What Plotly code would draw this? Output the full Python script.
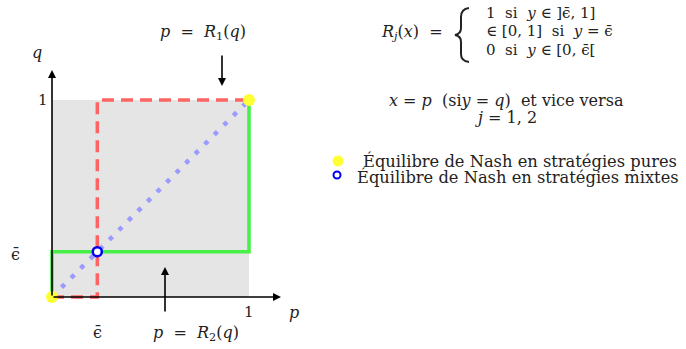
import plotly.graph_objects as go

# best responses in the (p, q) square
eps = 0.23
r1_p = [0, eps, eps, 1]
r1_q = [0, 0, 1, 1]
r2_p = [0, 0, 1, 1]
r2_q = [0, eps, eps, 1]
diag = [0, 1]
pure_p = [0, 1]
pure_q = [0, 1]
mixed_p = [eps]
mixed_q = [eps]

serif = "DejaVu Serif"
W, H = 686, 349
px = 197.0  # pixels per unit
x0, y0 = 52, 297  # pixel position of the origin

def X(pix):
    return (pix - x0) / px

def Y(pix):
    return (y0 - pix) / px

EPS = "ϵ̄"

fig = go.Figure()

# grey square
fig.add_shape(type="rect", x0=0, y0=0, x1=1, y1=1, fillcolor="#e5e5e5",
              line_width=0, layer="below")

# diagonal dots
fig.add_trace(go.Scatter(x=diag, y=diag, mode="lines",
                         line=dict(color="#9a9aff", width=4.5, dash="4.5px,9px")))
# R1 dashed red
fig.add_trace(go.Scatter(x=r1_p, y=r1_q, mode="lines",
                         line=dict(color="#ff6464", width=3.5, dash="12px,7px")))
# R2 green
fig.add_trace(go.Scatter(x=r2_p, y=r2_q, mode="lines",
                         line=dict(color="#46f046", width=3.5)))
# equilibria
fig.add_trace(go.Scatter(x=pure_p, y=pure_q, mode="markers",
                         marker=dict(color="#ffff33", size=12, line_width=0)))
fig.add_trace(go.Scatter(x=mixed_p, y=mixed_q, mode="markers",
                         marker=dict(color="white", size=9,
                                     line=dict(color="#0000ee", width=2.5))))

def arrow(xa, ya, xb, yb):
    fig.add_annotation(x=xb, y=yb, ax=xa, ay=ya, xref="x", yref="y",
                       axref="x", ayref="y", showarrow=True, arrowhead=2,
                       arrowsize=1, arrowwidth=1.6, arrowcolor="black", text="")

# axes
arrow(0, 0, X(281), 0)
arrow(0, 0, 0, Y(70))
# pointers to the curves
arrow(X(222), Y(54), X(222), Y(86))
arrow(X(165), Y(313), X(165), Y(267))

def txt(xp, yp, s, size=16, xanchor="center"):
    fig.add_annotation(x=X(xp), y=Y(yp), text=s, showarrow=False,
                       xanchor=xanchor, yanchor="middle",
                       font=dict(family=serif, size=size, color="#222"))

txt(203, 32, "<i>p</i>  =  <i>R</i><sub>1</sub>(<i>q</i>)")
txt(196, 333, "<i>p</i>  =  <i>R</i><sub>2</sub>(<i>q</i>)")
txt(37, 52, "<i>q</i>")
txt(294, 312, "<i>p</i>")
txt(43, 100, "1", size=15)
txt(249, 312, "1", size=15)
txt(15, 254, EPS)
txt(97, 332, EPS)

# definition of R_j
txt(412, 32, "<i>R<sub>j</sub></i>(<i>x</i>)  =")
# brace, drawn as a path
bx = [469, 461, 461, 461, 461, 455, 461, 461, 461, 461, 469]
by = [8, 9, 17, 28, 34, 35, 36, 42, 54, 61, 62]
pts = [(X(a), Y(b)) for a, b in zip(bx, by)]
path = ("M {0[0]},{0[1]} Q {1[0]},{1[1]} {2[0]},{2[1]} L {3[0]},{3[1]} "
        "Q {4[0]},{4[1]} {5[0]},{5[1]} Q {6[0]},{6[1]} {7[0]},{7[1]} "
        "L {8[0]},{8[1]} Q {9[0]},{9[1]} {10[0]},{10[1]}").format(*pts)
fig.add_shape(type="path", path=path, line=dict(color="#222", width=2))

txt(484, 13, "1  si  <i>y</i> ∈ ]" + EPS + ", 1]", size=15, xanchor="left")
txt(484, 31, "∈ [0, 1]  si  <i>y</i> = " + EPS, size=15, xanchor="left")
txt(484, 50, "0  si  <i>y</i> ∈ [0, " + EPS + "[", size=15, xanchor="left")
txt(506, 100, "<i>x</i> = <i>p</i>  (si<i>y</i> = <i>q</i>)  et vice versa", size=16)
txt(506, 117, "<i>j</i> = 1, 2", size=16)

# legend
fig.add_trace(go.Scatter(x=[X(338)], y=[Y(161)], mode="markers",
                         marker=dict(color="#ffff33", size=11, line_width=0)))
fig.add_trace(go.Scatter(x=[X(337)], y=[Y(175)], mode="markers",
                         marker=dict(color="white", size=7,
                                     line=dict(color="#0000ee", width=2))))
txt(361, 161, "Équilibre de Nash en stratégies pures", size=16.3, xanchor="left")
txt(355, 177, "Équilibre de Nash en stratégies mixtes", size=16.3, xanchor="left")

fig.update_layout(
    width=W, height=H, margin=dict(l=0, r=0, t=0, b=0),
    paper_bgcolor="white", plot_bgcolor="white", showlegend=False,
    xaxis=dict(range=[X(0), X(W)], visible=False, fixedrange=True),
    yaxis=dict(range=[Y(H), Y(0)], visible=False, fixedrange=True),
)

fig.write_html("out.html", config={"displayModeBar": False},
               post_script="document.body.style.margin='0';")
